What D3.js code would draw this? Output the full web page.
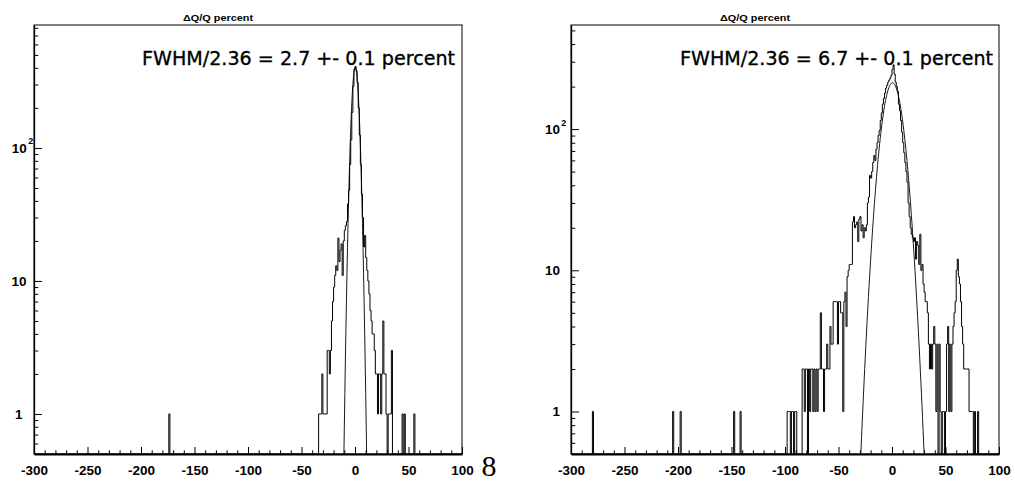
<!DOCTYPE html>
<html>
<head>
<meta charset="utf-8">
<script src="https://cdn.jsdelivr.net/npm/d3@7"></script>
<style>
  body { margin: 0; background: #fff; }
  svg { display: block; }
</style>
</head>
<body>
<svg id="chart" width="1015" height="481"></svg>
<script>
// ---- data ---------------------------------------------------------------
const xRange = [-300, 100];          // ΔQ/Q axis range
const binWidth = 1;                   // histogram bin width
const xMajorTicks = [-300, -250, -200, -150, -100, -50, 0, 50, 100];
const yMajorTicks = [1, 10, 100];
const yMinorTicks = [0.6, 0.7, 0.8, 0.9, 2, 3, 4, 5, 6, 7, 8, 9,
                     20, 30, 40, 50, 60, 70, 80, 90, 200, 300, 400, 500, 600, 700, 800];

// left histogram: lower bin edges of non-empty bins and their counts
const leftBinStart = [-174,
  -34, -33, -32, -31, -30, -29, -28, -27, -26, -25, -24, -23,
  -22, -21, -20, -19, -18, -17, -16, -15, -14, -13, -12, -11,
  -10, -9, -8, -7, -6, -5, -4, -3, -2, -1,
  0, 1, 2, 3, 4, 5, 6, 7, 8, 9,
  10, 11, 12, 13, 14, 15, 16, 17, 18, 19,
  20, 21, 22, 23, 24, 25, 26, 27, 28, 29,
  31, 32, 33, 34, 44, 46, 55];
const leftCounts = [1,
  1, 1, 1, 2, 1, 1, 1, 1, 3, 3, 2, 3,
  5, 7, 9, 11, 13, 12, 21, 14, 17, 19, 11, 20,
  24, 26, 28, 38, 48, 75, 115, 185, 290, 390,
  410, 380, 310, 200, 125, 75, 45, 30, 18, 22,
  15, 12, 10, 8, 6, 5, 4, 4, 3, 2,
  2, 1, 2, 2, 1, 2, 5, 2, 2, 1,
  1, 1, 1, 3, 1, 1, 1];

// right histogram: lower bin edges of non-empty bins and their counts
const rightBinStart = [-280, -205, -198, -148, -142,
  -98, -97, -96, -94, -93, -91, -90,
  -84, -83, -82, -81, -80, -78, -77, -76, -75, -74, -73, -72, -71,
  -70, -69, -68, -67, -66, -65, -64, -63, -62, -61,
  -60, -59, -58, -57, -56, -55, -54, -53, -52, -51,
  -50, -49, -48, -47, -46, -45, -44, -43, -42, -41,
  -40, -39, -38, -37, -36, -35, -34, -33, -32, -31,
  -30, -29, -28, -27, -26, -25, -24, -23, -22, -21,
  -20, -19, -18, -17, -16, -15, -14, -13, -12, -11,
  -10, -9, -8, -7, -6, -5, -4, -3, -2, -1,
  0, 1, 2, 3, 4, 5, 6, 7, 8, 9,
  10, 11, 12, 13, 14, 15, 16, 17, 18, 19,
  20, 21, 22, 23, 24, 25, 26, 27, 28, 29,
  30, 31, 32, 33, 34, 35, 36, 37, 38, 39,
  40, 41, 42, 44, 45, 47, 48,
  50, 51, 52, 53, 54, 55, 56, 57, 58, 59,
  60, 61, 62, 63, 64, 65, 66, 67, 68, 69,
  70, 71, 72, 73, 74, 75, 77, 80];
const rightCounts = [1, 1, 1, 1, 1,
  1, 1, 1, 1, 1, 1, 1,
  2, 2, 1, 2, 2, 2, 1, 2, 2, 1, 2, 1, 2,
  1, 2, 2, 5, 2, 2, 1, 2, 2, 3,
  2, 2, 4, 3, 3, 6, 6, 6, 6, 3,
  6, 6, 5, 5, 1, 6, 7, 4, 9, 10,
  11, 11, 11, 22, 24, 20, 21, 22, 16, 23,
  24, 19, 21, 17, 20, 19, 21, 30, 33, 47,
  45, 50, 58, 65, 60, 72, 80, 90, 98, 115,
  130, 150, 165, 180, 195, 205, 215, 222, 230, 240,
  265, 285, 245, 215, 200, 185, 150, 135, 115, 95,
  80, 68, 58, 50, 42, 30, 24, 20, 18, 17,
  16, 17, 12, 16, 15, 11, 18, 10, 11, 8,
  7, 6, 6, 5, 3, 2, 3, 2, 3, 4,
  3, 1, 3, 3, 1, 1, 1,
  1, 3, 4, 1, 3, 1, 3, 4, 5, 6,
  10, 12, 9, 8, 6, 4, 3, 2, 2, 2,
  2, 2, 1, 1, 1, 1, 1, 1];

// Gaussian fit parameters (amplitude, mean, sigma) for each panel
const fitAmplitude = [405, 213];
const fitMean = [0.25, 0.45];
const fitSigma = [2.9, 8.5];

const fitLabels = ["FWHM/2.36 = 2.7 +- 0.1 percent", "FWHM/2.36 = 6.7 +- 0.1 percent"];
const histTitle = "ΔQ/Q percent";
const pageNumber = "8";

// ---- layout -------------------------------------------------------------
const labelFont = "Liberation Sans, Arial, Helvetica, sans-serif";
const tickFontSize = 13.5;
const panels = [
  { left: 34, right: 462, top: 25, bottom: 454, yMax: 840,
    starts: leftBinStart, counts: leftCounts, fit: 0,
    titleX: 218, labelX: 142, labelW: 313,
    yLabelEnd: { 1: 22.5, 10: 26.5, 100: 26.7 }, supGap: 1.5 },
  { left: 571, right: 999, top: 25, bottom: 454, yMax: 546,
    starts: rightBinStart, counts: rightCounts, fit: 1,
    titleX: 755, labelX: 680, labelW: 313,
    yLabelEnd: { 1: 560, 10: 560, 100: 560 }, supGap: 1.3 }
];

const svg = d3.select("#chart");
const yMin = 0.5;

function styleLabel(sel, size) {
  sel.attr("font-family", labelFont)
     .attr("font-weight", "bold")
     .attr("font-size", size)
     .attr("fill", "#000");
}

panels.forEach((p, pi) => {
  const x = d3.scaleLinear().domain(xRange).range([p.left, p.right]);
  const y = d3.scaleLog().domain([yMin, p.yMax]).range([p.bottom, p.top]);
  const g = svg.append("g");

  // clip region = frame
  const clipId = "clip" + pi;
  svg.append("clipPath").attr("id", clipId)
    .append("rect").attr("x", p.left).attr("y", p.top)
    .attr("width", p.right - p.left).attr("height", p.bottom - p.top);

  // frame
  g.append("rect")
    .attr("x", p.left).attr("y", p.top)
    .attr("width", p.right - p.left).attr("height", p.bottom - p.top)
    .attr("fill", "none").attr("stroke", "#000").attr("stroke-width", 1);

  // full bin contents over the axis range
  const nBins = Math.round((xRange[1] - xRange[0]) / binWidth);
  const content = new Array(nBins).fill(0);
  p.starts.forEach((s, i) => {
    const k = Math.round((s - xRange[0]) / binWidth);
    if (k >= 0 && k < nBins) content[k] = p.counts[i];
  });
  const stepPts = [];
  content.forEach((c, k) => {
    const lo = xRange[0] + k * binWidth;
    stepPts.push([lo, c], [lo + binWidth, c]);
  });
  const histLine = d3.line()
    .x(d => x(d[0]))
    .y(d => y(Math.max(d[1], yMin)));
  g.append("path")
    .attr("d", histLine(stepPts))
    .attr("fill", "none").attr("stroke", "#000").attr("stroke-width", 1)
    .attr("clip-path", `url(#${clipId})`);

  // Gaussian fit curve
  const A = fitAmplitude[p.fit], m = fitMean[p.fit], s = fitSigma[p.fit];
  const fitPts = d3.range(xRange[0], xRange[1] + 0.001, 0.5)
    .map(v => [v, A * Math.exp(-((v - m) ** 2) / (2 * s * s))])
    .filter(d => d[1] > 0.2);
  g.append("path")
    .attr("d", d3.line().x(d => x(d[0])).y(d => y(d[1]))(fitPts))
    .attr("fill", "none").attr("stroke", "#000").attr("stroke-width", 0.9)
    .attr("clip-path", `url(#${clipId})`);

  // x axis: major ticks with labels, minor ticks every 10
  const xAxis = g.append("g").attr("transform", `translate(0,${p.bottom})`)
    .call(d3.axisBottom(x).tickValues(xMajorTicks).tickSizeInner(-7).tickSizeOuter(0)
      .tickPadding(11).tickFormat(d => String(d)));
  xAxis.attr("font-family", null).attr("font-size", null);
  xAxis.select(".domain").attr("stroke-width", 2);
  xAxis.selectAll("text").call(styleLabel, tickFontSize);
  const xMinor = d3.range(xRange[0], xRange[1] + 1, 10).filter(v => v % 50 !== 0);
  const xAxisMinor = g.append("g").attr("transform", `translate(0,${p.bottom})`)
    .call(d3.axisBottom(x).tickValues(xMinor).tickSizeInner(-3.7).tickSizeOuter(0).tickFormat(""));
  xAxisMinor.select(".domain").remove();

  // y axis (log): major and minor ticks
  const yAxis = g.append("g").attr("transform", `translate(${p.left},0)`)
    .call(d3.axisLeft(y).tickValues(yMajorTicks).tickSizeInner(-8).tickSizeOuter(0).tickFormat(""));
  yAxis.select(".domain").attr("stroke-width", 1.3);
  const yAxisMinor = g.append("g").attr("transform", `translate(${p.left},0)`)
    .call(d3.axisLeft(y).tickValues(yMinorTicks.filter(v => v <= p.yMax)).tickSizeInner(-4.3).tickSizeOuter(0).tickFormat(""));
  yAxisMinor.select(".domain").remove();

  // y labels: 1, 10, 10^2
  yMajorTicks.forEach(v => {
    const ty = y(v);
    const base = v === 100 ? "10" : String(v);
    g.append("text")
      .attr("x", p.yLabelEnd[v]).attr("y", ty).attr("dy", "0.36em")
      .attr("text-anchor", "end").text(base).call(styleLabel, tickFontSize);
    if (v === 100) {
      g.append("text")
        .attr("x", p.yLabelEnd[v] + p.supGap).attr("y", ty - 3.5)
        .text("2").call(styleLabel, 9);
    }
  });

  // histogram title
  svg.append("text")
    .attr("x", p.titleX).attr("y", 21)
    .attr("text-anchor", "middle")
    .attr("textLength", 70).attr("lengthAdjust", "spacingAndGlyphs")
    .text(histTitle).call(styleLabel, 9.5);

  // fit result label
  svg.append("text")
    .attr("x", p.labelX).attr("y", 65)
    .attr("font-family", "DejaVu Sans, Verdana, sans-serif")
    .attr("font-size", 20)
    .attr("stroke", "#000").attr("stroke-width", 0.35)
    .attr("textLength", p.labelW).attr("lengthAdjust", "spacingAndGlyphs")
    .text(fitLabels[p.fit]);
});

// page number
svg.append("text")
  .attr("x", 489).attr("y", 476)
  .attr("text-anchor", "middle")
  .attr("font-family", "Liberation Serif, Times New Roman, serif")
  .attr("font-size", 30)
  .text(pageNumber);
</script>
</body>
</html>
